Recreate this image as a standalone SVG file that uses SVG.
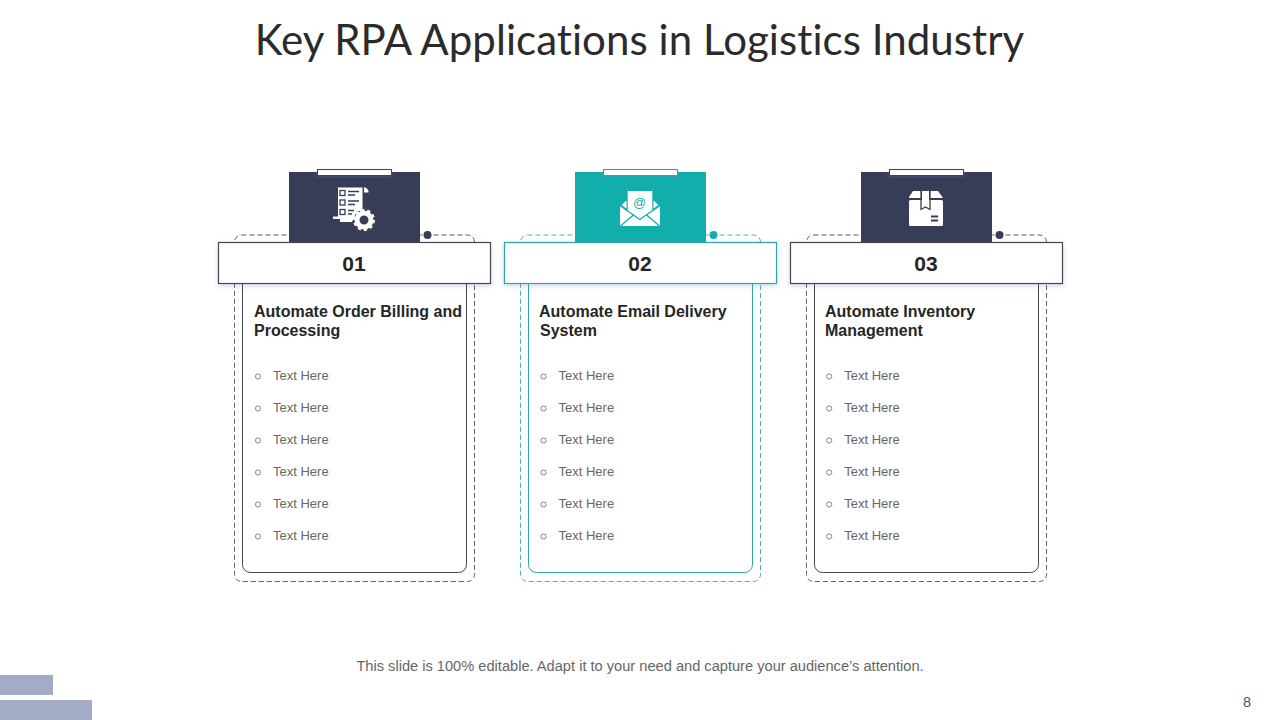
<svg xmlns="http://www.w3.org/2000/svg" width="1280" height="720" viewBox="0 0 1280 720">
<style>
text{font-family:"Liberation Sans",Arial,sans-serif}
.title{font-family:Lato,"Liberation Sans",sans-serif;font-size:42px;letter-spacing:.07px;fill:#2b2b2b;text-anchor:middle;font-variant-ligatures:none}
.num{font-size:21px;font-weight:700;fill:#262626;text-anchor:middle}
.head{font-size:16px;font-weight:700;fill:#262626}
.item{font-size:13px;fill:#666}
.foot{font-size:14.630px;fill:#666;text-anchor:middle}
.dash{fill:none;stroke:currentColor;stroke-width:1;stroke-dasharray:5 3;opacity:.85}
.inner{fill:#fff;stroke:currentColor;stroke-width:1}
.bar{fill:#fff;stroke:currentColor;stroke-width:1.200;filter:url(#sh)}
.tab{fill:#fff;stroke:currentColor;stroke-width:1;filter:url(#sh)}
.fill{fill:var(--solid)}
.bul{fill:none;stroke:#666;stroke-width:.8}
.navy{color:#44454f;--solid:#373d56}
.teal{color:#2fa5a6;--solid:#12aeac}
</style>
<defs>
<filter id="sh" x="-10%" y="-30%" width="120%" height="170%"><feDropShadow dx="0" dy="2" stdDeviation="2.500" flood-color="#5b7fc0" flood-opacity=".3"/></filter>
<g id="items">
<circle class="bul" cx="258" cy="376.500" r="2.600"/><text class="item" x="273" y="380">Text Here</text>
<circle class="bul" cx="258" cy="408.500" r="2.600"/><text class="item" x="273" y="412">Text Here</text>
<circle class="bul" cx="258" cy="440.500" r="2.600"/><text class="item" x="273" y="444">Text Here</text>
<circle class="bul" cx="258" cy="472.500" r="2.600"/><text class="item" x="273" y="476">Text Here</text>
<circle class="bul" cx="258" cy="504.500" r="2.600"/><text class="item" x="273" y="508">Text Here</text>
<circle class="bul" cx="258" cy="536.500" r="2.600"/><text class="item" x="273" y="540">Text Here</text>
</g>
<g id="frame">
<rect class="dash" x="234.500" y="235" width="240" height="346.500" rx="7"/>
<rect class="inner" x="242.500" y="270" width="224" height="302.500" rx="8"/>
<rect class="fill" x="289" y="172" width="131" height="71"/>
<rect class="tab" x="317.500" y="169.500" width="74" height="6"/>
<circle class="fill" cx="427.500" cy="235" r="4"/>
<rect class="bar" x="218.500" y="242.500" width="272" height="41"/>
</g>
</defs>
<text class="title" x="639.500" y="55">Key RPA Applications in Logistics Industry</text>
<g id="connectors"></g>
<g id="card-1" class="navy">
<use href="#frame"/>
<g id="icon-1">
<path fill="#fff" d="M337 187.500H362.500V211H357L352 222H340V219H333V216.500H338V188Z"/>
<path fill="#fff" d="M364 187l3 1.500 1.500 2.500V192.500H364Z"/>
<g fill="none" stroke="#373d56" stroke-width="1.300"><rect x="340" y="190.500" width="5" height="5"/><rect x="340" y="200" width="5" height="5"/><rect x="340" y="209.500" width="5" height="5"/></g>
<path stroke="#373d56" stroke-width="1.500" d="M348 191.500h11M348 195h7M348 201h11M348 204.500h7M348 210.500h6M348 214h4"/>
<circle cx="364" cy="220" r="9.500" fill="#373d56"/>
<circle cx="364" cy="220" r="7" fill="none" stroke="#fff" stroke-width="5"/>
<circle cx="364" cy="220" r="9.800" fill="none" stroke="#fff" stroke-width="2.400" stroke-dasharray="3.200 2.950"/>
</g>
<text class="num" x="354" y="271">01</text>
<text class="head" x="254" y="316.500">Automate Order Billing and</text>
<text class="head" x="254" y="336">Processing</text>
<use href="#items"/>
</g>
<g id="card-2" class="teal" transform="translate(286 0)">
<use href="#frame"/>
<g id="icon-2">
<path fill="#fff" d="M341.700 191H366.300V214L353.700 222 341.700 214Z"/>
<path fill="#fff" d="M334 206V226H374V206L354 220Z"/>
<path fill="#fff" d="M340.500 200.500V208.500L335.500 205ZM367.500 200.500V208.500L372.500 205Z"/>
<path fill="none" stroke="#12aeac" stroke-width="1.300" d="M334 205.500L353.700 219.500 374 205.500M334.500 226L348 214.500M373.500 226L360 214.500"/>
<text x="353.700" y="206.500" font-size="13" fill="#12aeac" text-anchor="middle">@</text>
</g>
<text class="num" x="354" y="271">02</text>
<text class="head" x="253" y="316.500">Automate Email Delivery</text>
<text class="head" x="254" y="336">System</text>
<use href="#items" x="-0.500"/>
</g>
<g id="card-3" class="navy" transform="translate(572 0)">
<use href="#frame"/>
<g id="icon-3">
<path fill="#fff" d="M337 197L341 191H349V198H337ZM358 191H366L370.500 197V198H358Z"/>
<rect x="337" y="200" width="34" height="26" rx="1.500" fill="#fff"/>
<path fill="#fff" d="M350 191H357V207L353.500 205 350 207Z"/>
<path fill="none" stroke="#373d56" stroke-width="1.300" d="M337 199.300H349M358 199.300H371M349 191V209.500L353.500 207 358 209.500V191"/>
<path stroke="#373d56" stroke-width="1.800" d="M359 216.500H366M359 220.500H366"/>
</g>
<text class="num" x="354" y="271">03</text>
<text class="head" x="253" y="316.500">Automate Inventory</text>
<text class="head" x="253" y="336">Management</text>
<use href="#items" x="-0.800"/>
</g>
<text class="foot" x="640" y="671">This slide is 100% editable. Adapt it to your need and capture your audience’s attention.</text>
<rect x="0" y="675" width="53" height="20" fill="#a3abc6"/>
<rect x="0" y="700" width="92" height="20" fill="#a3abc6"/>
<text x="1247" y="707" font-size="14.600" fill="#555" text-anchor="middle">8</text>
</svg>
